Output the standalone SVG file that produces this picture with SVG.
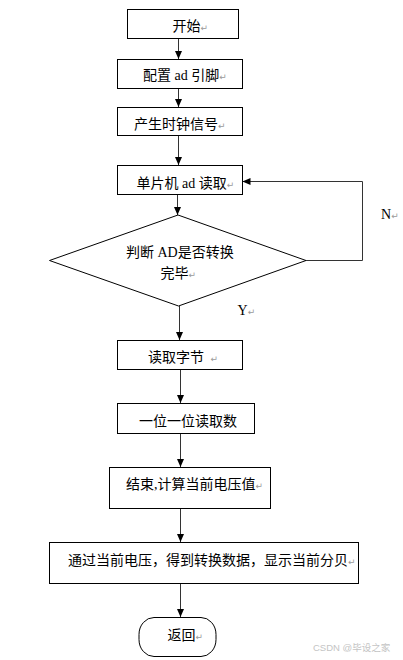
<svg xmlns="http://www.w3.org/2000/svg" width="403" height="660" viewBox="0 0 403 660">
<style>
.box{fill:#fff;stroke:#000;stroke-width:1}
.t{font-family:"Liberation Serif","Noto Sans CJK SC",serif;font-size:14px;fill:#000}
.rm{font-family:"DejaVu Sans",sans-serif;font-size:9px;fill:#9a9a9a}
.c{fill:none;stroke:#333;stroke-width:1}
.wm{font-family:"Liberation Sans","Noto Sans CJK SC",sans-serif;font-size:9.5px;fill:#c4c4c4}
</style>
<defs>
<marker id="ah" markerUnits="userSpaceOnUse" markerWidth="8" markerHeight="8" refX="8" refY="4" orient="auto">
<path d="M0,0.5 L8,4 L0,7.5 Z" fill="#000"/>
</marker>
</defs>
<rect width="403" height="660" fill="#fff"/>
<g id="connectors">
<line class="c" x1="178.5" y1="38" x2="178.5" y2="59" marker-end="url(#ah)"/>
<line class="c" x1="178.5" y1="88" x2="178.5" y2="107" marker-end="url(#ah)"/>
<line class="c" x1="178.5" y1="135" x2="178.5" y2="165" marker-end="url(#ah)"/>
<line class="c" x1="177.5" y1="194" x2="177.5" y2="215" marker-end="url(#ah)"/>
<line class="c" x1="179.5" y1="306" x2="179.5" y2="340" marker-end="url(#ah)"/>
<line class="c" x1="180.5" y1="369" x2="180.5" y2="403" marker-end="url(#ah)"/>
<line class="c" x1="180.5" y1="433" x2="180.5" y2="467" marker-end="url(#ah)"/>
<line class="c" x1="180.5" y1="508" x2="180.5" y2="542" marker-end="url(#ah)"/>
<line class="c" x1="180.5" y1="583" x2="180.5" y2="617" marker-end="url(#ah)"/>
<polyline class="c" points="306,260.5 362.5,260.5 362.5,181.5 242.5,181.5" marker-end="url(#ah)"/>
<text class="t" x="381" y="219">N<tspan class="rm">↵</tspan></text>
<text class="t" x="237.5" y="315">Y<tspan class="rm">↵</tspan></text>
</g>
<g id="start">
<rect class="box" x="127.5" y="9.5" width="111" height="29"/>
<text class="t" x="172.5" y="31">开始<tspan class="rm">↵</tspan></text>
</g>
<g id="config">
<rect class="box" x="117.5" y="59.5" width="125" height="29"/>
<text class="t" x="143" y="79.5">配置 ad 引脚<tspan class="rm">↵</tspan></text>
</g>
<g id="clock">
<rect class="box" x="117.5" y="107.5" width="125" height="28"/>
<text class="t" x="134" y="128.5">产生时钟信号<tspan class="rm">↵</tspan></text>
</g>
<g id="read">
<rect class="box" x="117.5" y="165.5" width="125" height="29"/>
<text class="t" x="136.5" y="187.5">单片机 ad 读取<tspan class="rm">↵</tspan></text>
</g>
<g id="decision">
<polygon class="box" points="178,215 306,260.5 178.5,306 49.5,260.5"/>
<text class="t" x="126" y="257">判断 AD是否转换</text>
<text class="t" x="160.5" y="277.5">完毕<tspan class="rm">↵</tspan></text>
</g>
<g id="readbyte">
<rect class="box" x="117.5" y="340.5" width="125" height="29"/>
<text class="t" x="148" y="362">读取字节 <tspan class="rm" dx="3">↵</tspan></text>
</g>
<g id="bitread">
<rect class="box" x="117.5" y="403.5" width="137" height="30"/>
<text class="t" x="139" y="425.5">一位一位读取数</text>
</g>
<g id="calc">
<rect class="box" x="109.5" y="467.5" width="161" height="41"/>
<text class="t" x="126" y="488.5">结束,计算当前电压值<tspan class="rm">↵</tspan></text>
</g>
<g id="display">
<rect class="box" x="49.5" y="542.5" width="309" height="41"/>
<text class="t" x="68" y="564.5">通过当前电压，得到转换数据，显示当前分贝<tspan class="rm">↵</tspan></text>
</g>
<g id="return">
<rect class="box" x="139" y="617.5" width="77" height="39" rx="15" ry="17"/>
<text class="t" x="167.5" y="640">返回<tspan class="rm">↵</tspan></text>
</g>
<text class="wm" x="313" y="651">CSDN @毕设之家</text>
</svg>
